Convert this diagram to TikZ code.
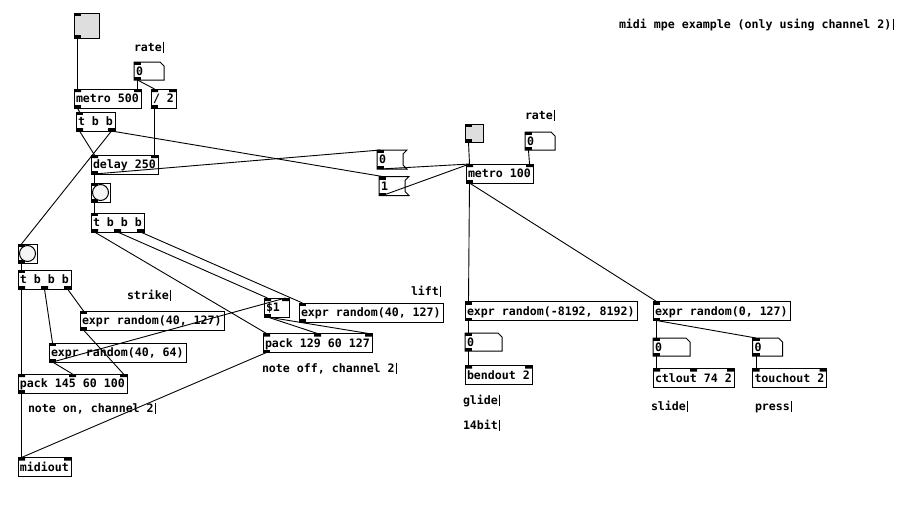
\documentclass[tikz,border=0pt]{standalone}
\usepackage{fontspec}
\newfontfamily\pdfont{DejaVu Sans Mono}
\usetikzlibrary{calc}

\newcommand\pdtext{\pdfont\bfseries\fontsize{11.6pt}{13pt}\selectfont\frenchspacing\spaceskip=\fontdimen2\font\relax}

% ports on top / bottom edge of a box, given as fractions of its width
\newcommand\inlets[2]{%
  \fill[port] let \p1=(#1.north west), \p2=(#1.north east) in
    \foreach \f [count=\k] in {#2} {
      ({\x1+\f*(\x2-\x1-7pt)},\y1) rectangle ++(7pt,-3pt)
      ({\x1+\f*(\x2-\x1-7pt)+3.5pt},\y1) coordinate (#1-i\k)
    };}
\newcommand\outlets[2]{%
  \fill[port] let \p1=(#1.south west), \p2=(#1.south east) in
    \foreach \f [count=\k] in {#2} {
      ({\x1+\f*(\x2-\x1-7pt)},\y1) rectangle ++(7pt,3pt)
      ({\x1+\f*(\x2-\x1-7pt)+3.5pt},\y1) coordinate (#1-o\k)
    };}
\newcommand\numframe[1]{\draw[box] (#1.north west) -- ([xshift=-4pt]#1.north east) -- ([yshift=-4pt]#1.north east) -- (#1.south east) -- (#1.south west) -- cycle;}
\newcommand\msgframe[1]{\draw[box] (#1.north west) -- (#1.north east) -- ([shift={(-4pt,-4pt)}]#1.north east) -- ([shift={(-4pt,4pt)}]#1.south east) -- (#1.south east) -- (#1.south west) -- cycle;}

\begin{document}
\begin{tikzpicture}[x=1pt,y=-1pt,
    box/.style={line width=1pt},
    obj/.style={draw,box,anchor=north west,outer sep=0pt,inner xsep=1.5pt,inner ysep=0pt,text height=13.7pt,text depth=5.3pt,font=\pdtext,
        execute at begin node={\pdtext\leavevmode\hspace*{0.5pt}}},
    atom/.style={obj,draw=none,text height=13pt,text depth=5pt},
    msg/.style={obj,draw=none},
    gui/.style={draw,box,anchor=north west,outer sep=0pt,inner sep=0pt,minimum size=#1},
    cmt/.style={anchor=base west,inner sep=0pt,outer sep=0pt,text height=9.3pt,text depth=2.3pt,font=\pdtext,
        append after command={([xshift=2pt]\tikzlastnode.north east) edge[box] ([xshift=2pt]\tikzlastnode.south east)}},
    port/.style={fill=black},
    wire/.style={line width=0.9pt}
]
    \path[use as bounding box,fill=white] (0,0) rectangle (919,528);

    % title
    \node[cmt] (title) at (619,28) {midi mpe example (only using channel 2)};

    % left clock
    \node[gui=25pt,fill=black!13] (togA) at (74,13) {};
    \node[cmt] (rateA) at (134,51) {rate};
    \node[atom,text width=27pt] (numA) at (134,62) {0};
    \numframe{numA}
    \node[obj,text width=64pt] (metroA) at (74,89) {metro 500};
    \node[obj,text width=22pt] (div) at (151,89) {/ 2};
    \node[obj,text width=36pt] (tbb) at (76,112) {t b b};
    \node[obj,text width=64pt] (delay) at (91,155) {delay 250};

    % note off
    \node[gui=19pt,fill=white] (bngA) at (91,183) {};
    \draw[box,fill=black!4] (bngA.center) circle (8pt);
    \node[obj,text width=50pt] (tbbbA) at (91,213) {t b b b};
    \node[obj,text width=22pt] (dollar) at (264,298) {\$1};
    \node[cmt] (lift) at (411,295) {lift};
    \node[obj,text width=141pt] (exprC) at (299,303) {expr random(40, 127)};
    \node[obj,text width=106pt] (packB) at (263,333.5) {pack 129 60 127};
    \node[cmt] (noteoff) at (262,372) {note off, channel 2};

    % note on
    \node[gui=19pt,fill=white] (bngB) at (18,244) {};
    \draw[box,fill=black!4] (bngB.center) circle (8pt);
    \node[obj,text width=50pt] (tbbbB) at (18,270) {t b b b};
    \node[cmt] (strike) at (127,299) {strike};
    \node[obj,text width=141pt] (exprA) at (80,311) {expr random(40, 127)};
    \node[obj,text width=134pt] (exprB) at (49,343) {expr random(40, 64)};
    \node[obj,text width=106pt] (packA) at (18,374) {pack 145 60 100};
    \node[cmt] (noteon) at (28,412) {note on, channel 2};
    \node[obj,text width=50pt] (midiout) at (18,457.5) {midiout};

    % start / stop
    \node[msg,text width=27pt] (msg0) at (377,150) {0};
    \msgframe{msg0}
    \node[msg,text width=27pt] (msg1) at (379,176.5) {1};
    \msgframe{msg1}

    % right clock
    \node[gui=18pt,fill=black!13] (togB) at (465,124) {};
    \node[cmt] (rateB) at (525,119) {rate};
    \node[atom,text width=27pt] (numB) at (525,132) {0};
    \numframe{numB}
    \node[obj,text width=64pt] (metroB) at (466,164) {metro 100};

    % glide
    \node[obj,text width=169pt] (exprD) at (465,301.5) {expr random(-8192, 8192)};
    \node[atom,text width=34pt] (numC) at (465,333) {0};
    \numframe{numC}
    \node[obj,text width=64pt] (bendout) at (465,365.5) {bendout 2};
    \node[cmt] (glide) at (463,404) {glide};
    \node[cmt] (bit14) at (463,429) {14bit};

    % slide / press
    \node[obj,text width=134pt] (exprE) at (653,301.5) {expr random(0, 127)};
    \node[atom,text width=34pt] (numD) at (653,338) {0};
    \numframe{numD}
    \node[atom,text width=27pt] (numE) at (752.5,338) {0};
    \numframe{numE}
    \node[obj,text width=78pt] (ctlout) at (653,368.5) {ctlout 74 2};
    \node[obj,text width=71pt] (touchout) at (752.5,368.5) {touchout 2};
    \node[cmt] (slide) at (651,410) {slide};
    \node[cmt] (press) at (755,410) {press};

    % ports
    \inlets{togA}{0} \outlets{togA}{0}
    \inlets{numA}{0} \outlets{numA}{0}
    \inlets{metroA}{0,1} \outlets{metroA}{0}
    \inlets{div}{0,1} \outlets{div}{0}
    \inlets{tbb}{0} \outlets{tbb}{0,1}
    \inlets{delay}{0,1} \outlets{delay}{0}
    \inlets{bngA}{0} \outlets{bngA}{0}
    \inlets{tbbbA}{0} \outlets{tbbbA}{0,0.5,1}
    \inlets{dollar}{0,1} \outlets{dollar}{0}
    \inlets{exprC}{0} \outlets{exprC}{0}
    \inlets{packB}{0,0.5,1} \outlets{packB}{0}
    \inlets{bngB}{0} \outlets{bngB}{0}
    \inlets{tbbbB}{0} \outlets{tbbbB}{0,0.5,1}
    \inlets{exprA}{0} \outlets{exprA}{0}
    \inlets{exprB}{0} \outlets{exprB}{0}
    \inlets{packA}{0,0.5,1} \outlets{packA}{0}
    \inlets{midiout}{0,1}
    \inlets{msg0}{0} \outlets{msg0}{0}
    \inlets{msg1}{0} \outlets{msg1}{0}
    \inlets{togB}{0} \outlets{togB}{0}
    \inlets{numB}{0} \outlets{numB}{0}
    \inlets{metroB}{0,1} \outlets{metroB}{0}
    \inlets{exprD}{0} \outlets{exprD}{0}
    \inlets{numC}{0} \outlets{numC}{0}
    \inlets{bendout}{0,1}
    \inlets{exprE}{0} \outlets{exprE}{0}
    \inlets{numD}{0} \outlets{numD}{0}
    \inlets{numE}{0} \outlets{numE}{0}
    \inlets{ctlout}{0,0.5,1}
    \inlets{touchout}{0,1}

    % left clock wires
    \draw[wire] (togA-o1) -- (metroA-i1);
    \draw[wire] (numA-o1) -- (metroA-i2);
    \draw[wire] (numA-o1) -- (div-i1);
    \draw[wire] (div-o1) -- (delay-i2);
    \draw[wire] (metroA-o1) -- (tbb-i1);
    \draw[wire] (tbb-o1) -- (delay-i1);
    \draw[wire] (tbb-o2) -- (bngB-i1);
    \draw[wire] (tbb-o2) -- (msg1-i1);
    \draw[wire] (delay-o1) -- (msg0-i1);
    \draw[wire] (delay-o1) -- (bngA-i1);

    % note off wires
    \draw[wire] (bngA-o1) -- (tbbbA-i1);
    \draw[wire] (tbbbA-o1) -- (packB-i1);
    \draw[wire] (tbbbA-o2) -- (dollar-i1);
    \draw[wire] (tbbbA-o3) -- (exprC-i1);
    \draw[wire] (exprB-o1) -- (dollar-i2);
    \draw[wire] (dollar-o1) -- (packB-i2);
    \draw[wire] (dollar-o1) -- (packB-i3);
    \draw[wire] (packB-o1) -- (midiout-i1);

    % note on wires
    \draw[wire] (bngB-o1) -- (tbbbB-i1);
    \draw[wire] (tbbbB-o1) -- (packA-i1);
    \draw[wire] (tbbbB-o2) -- (exprB-i1);
    \draw[wire] (tbbbB-o3) -- (exprA-i1);
    \draw[wire] (exprA-o1) -- (packA-i3);
    \draw[wire] (exprB-o1) -- (packA-i2);
    \draw[wire] (packA-o1) -- (midiout-i1);

    % right clock wires
    \draw[wire] (msg0-o1) -- (metroB-i1);
    \draw[wire] (msg1-o1) -- (metroB-i1);
    \draw[wire] (togB-o1) -- (metroB-i1);
    \draw[wire] (numB-o1) -- (metroB-i2);
    \draw[wire] (metroB-o1) -- (exprD-i1);
    \draw[wire] (metroB-o1) -- (exprE-i1);
    \draw[wire] (exprD-o1) -- (numC-i1);
    \draw[wire] (numC-o1) -- (bendout-i1);
    \draw[wire] (exprE-o1) -- (numD-i1);
    \draw[wire] (exprE-o1) -- (numE-i1);
    \draw[wire] (numD-o1) -- (ctlout-i1);
    \draw[wire] (numE-o1) -- (touchout-i1);
\end{tikzpicture}
\end{document}
